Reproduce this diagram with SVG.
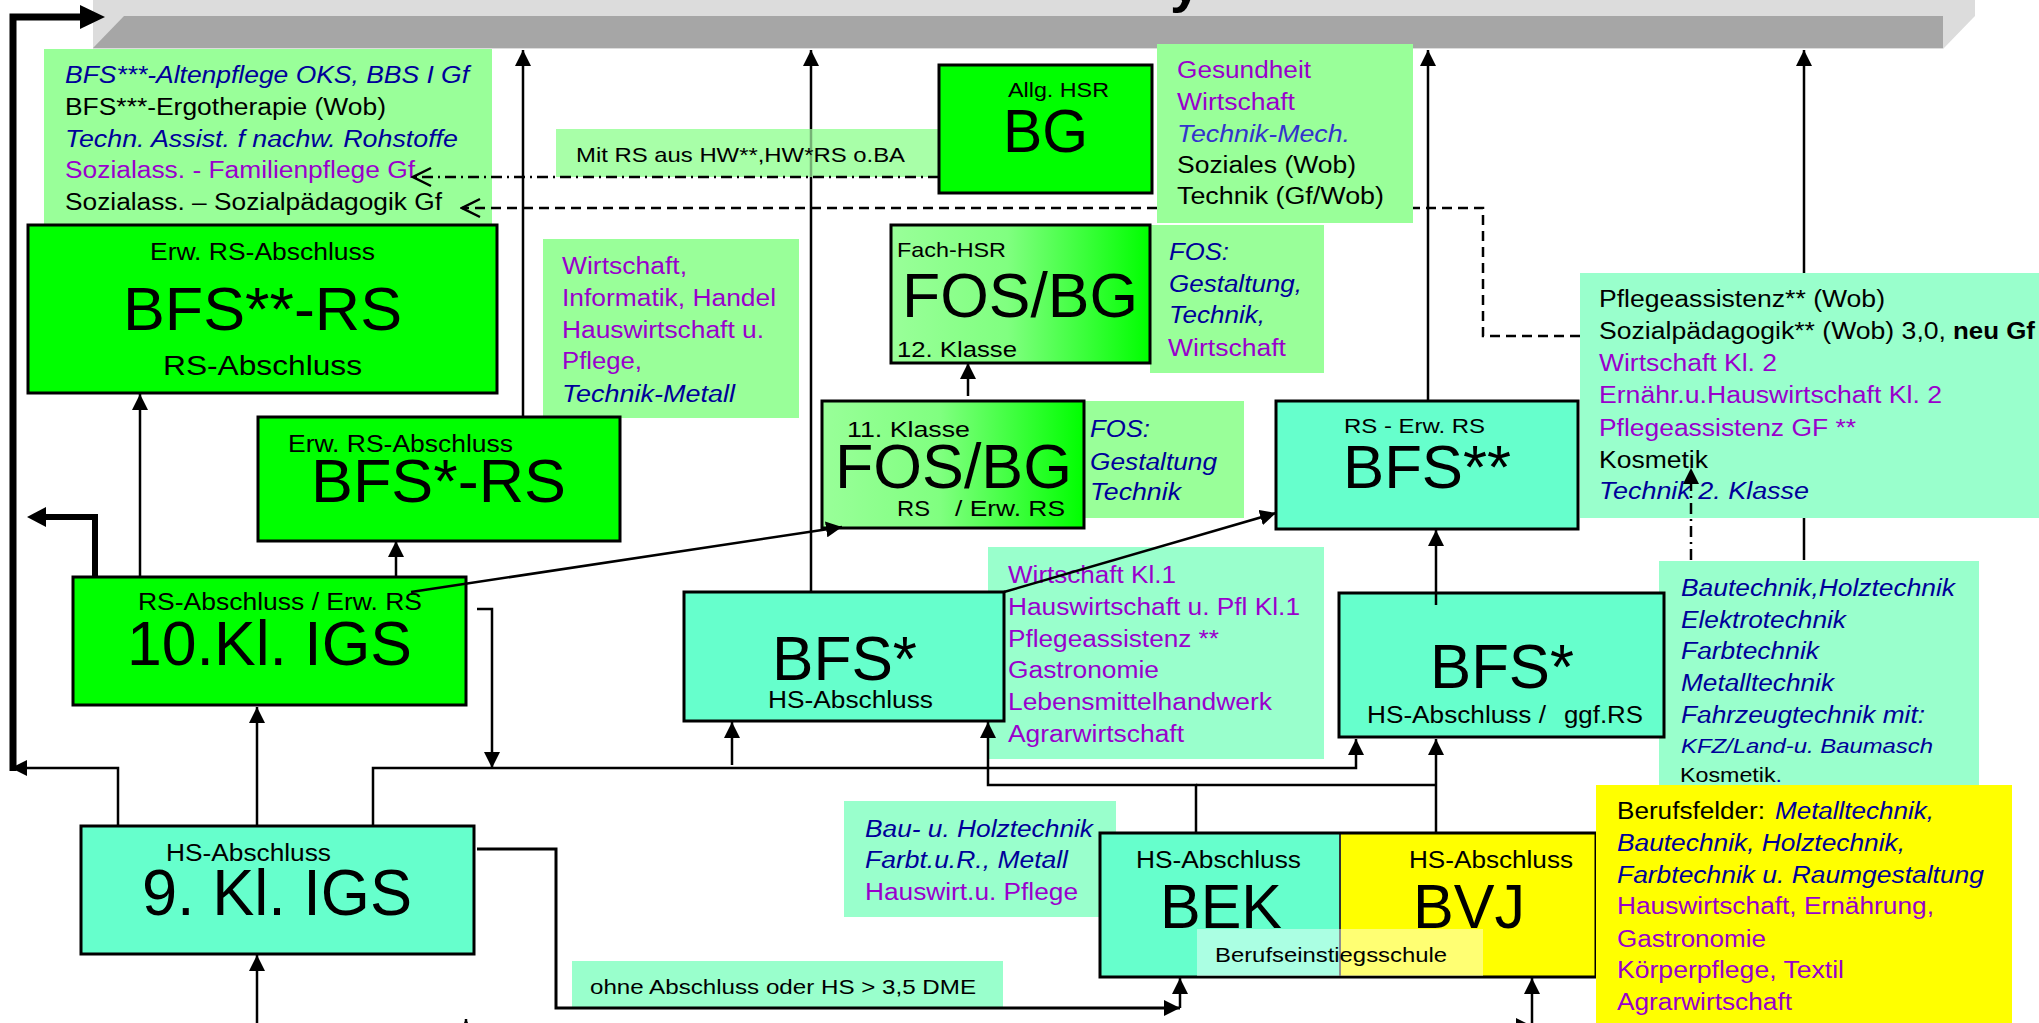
<svg xmlns="http://www.w3.org/2000/svg" width="2039" height="1023" viewBox="0 0 2039 1023">
<style>
text{font-family:"Liberation Sans",Arial,sans-serif;fill:#000}
.s{font-size:23px}
.m{font-size:21px}
.b{font-size:62px}
.p{fill:#9900CC}
.n{fill:#000099;font-style:italic}
.bx{stroke:#000;stroke-width:3}
.g1{fill:#00FF00}
.aq{fill:#66FFCC}
.lg{fill:#99FF99}
.la{fill:#99FFCC}
.ye{fill:#FFFF00}
.c{fill:none;stroke:#000;stroke-width:2.5}
.ca{fill:none;stroke:#000;stroke-width:2.5;marker-end:url(#ah)}
</style>
<defs>
<marker id="ah" markerUnits="userSpaceOnUse" markerWidth="16" markerHeight="16" viewBox="0 0 16 16" refX="16" refY="8" orient="auto"><path d="M0,0 L16,8 L0,16 z" fill="#000"/></marker>
<marker id="oa" markerUnits="userSpaceOnUse" markerWidth="22" markerHeight="22" viewBox="0 0 22 22" refX="20" refY="11" orient="auto"><path d="M2,2 L20,11 L2,20" fill="none" stroke="#000" stroke-width="2.5"/></marker>
<linearGradient id="fg" x1="0" y1="0" x2="1" y2="0"><stop offset="0" stop-color="#99FF99"/><stop offset="0.45" stop-color="#80FF80"/><stop offset="1" stop-color="#00FF00"/></linearGradient>
</defs>
<rect width="2039" height="1023" fill="#fff"/>
<g id="topbar">
<polygon points="93,0 1975,0 1975,16 1943,49 93,49" fill="#DCDCDC"/>
<polygon points="124,16 1943,16 1943,48 93,48" fill="#A6A6A6"/>
<text x="1170" y="1" style="font-size:56px;font-weight:bold">y</text>
</g>
<g id="list-bfs3">
<rect x="44" y="49" width="448" height="176" class="lg"/>
<text x="65" y="83" class="s n" textLength="404" lengthAdjust="spacingAndGlyphs">BFS***-Altenpflege OKS, BBS I Gf</text>
<text x="65" y="115" class="s" textLength="321" lengthAdjust="spacingAndGlyphs">BFS***-Ergotherapie (Wob)</text>
<text x="65" y="147" class="s n" textLength="393" lengthAdjust="spacingAndGlyphs">Techn. Assist. f nachw. Rohstoffe</text>
<text x="65" y="178" class="s p" textLength="350" lengthAdjust="spacingAndGlyphs">Sozialass. - Familienpflege Gf</text>
<text x="65" y="210" class="s" textLength="377" lengthAdjust="spacingAndGlyphs">Sozialass. – Sozialpädagogik Gf</text>
</g>
<g id="label-mitrs">
<rect x="556" y="129" width="400" height="48" class="lg" opacity="0.85"/>
<text x="576" y="162" class="m" textLength="329" lengthAdjust="spacingAndGlyphs">Mit RS aus HW**,HW*RS o.BA</text>
</g>
<g id="bg">
<rect x="939" y="65" width="213" height="128" class="g1 bx"/>
<text x="1008" y="97" style="font-size:20px" textLength="101" lengthAdjust="spacingAndGlyphs">Allg. HSR</text>
<text x="1003" y="152" style="font-size:61px" textLength="85" lengthAdjust="spacingAndGlyphs">BG</text>
</g>
<g id="list-bg">
<rect x="1157" y="44" width="256" height="179" class="lg"/>
<text x="1177" y="78" class="s p" textLength="134" lengthAdjust="spacingAndGlyphs">Gesundheit</text>
<text x="1177" y="110" class="s p" textLength="118" lengthAdjust="spacingAndGlyphs">Wirtschaft</text>
<text x="1177" y="142" class="s" style="fill:#3333CC;font-style:italic" textLength="173" lengthAdjust="spacingAndGlyphs">Technik-Mech.</text>
<text x="1177" y="173" class="s" textLength="179" lengthAdjust="spacingAndGlyphs">Soziales (Wob)</text>
<text x="1177" y="204" class="s" textLength="207" lengthAdjust="spacingAndGlyphs">Technik (Gf/Wob)</text>
</g>
<g id="bfs2rs">
<rect x="28" y="225" width="469" height="168" class="g1 bx"/>
<text x="150" y="260" class="s" textLength="225" lengthAdjust="spacingAndGlyphs">Erw. RS-Abschluss</text>
<text x="123" y="330" class="b" textLength="279" lengthAdjust="spacingAndGlyphs">BFS**-RS</text>
<text x="163" y="375" style="font-size:27px" textLength="199" lengthAdjust="spacingAndGlyphs">RS-Abschluss</text>
</g>
<g id="list-bfs2rs">
<rect x="543" y="239" width="256" height="179" class="lg"/>
<text x="562" y="274" class="s p" textLength="125" lengthAdjust="spacingAndGlyphs">Wirtschaft,</text>
<text x="562" y="306" class="s p" textLength="214" lengthAdjust="spacingAndGlyphs">Informatik, Handel</text>
<text x="562" y="338" class="s p" textLength="202" lengthAdjust="spacingAndGlyphs">Hauswirtschaft u.</text>
<text x="562" y="369" class="s p" textLength="80" lengthAdjust="spacingAndGlyphs">Pflege,</text>
<text x="562" y="402" class="s n" textLength="173" lengthAdjust="spacingAndGlyphs">Technik-Metall</text>
</g>
<g id="list-fos12">
<rect x="1150" y="225" width="174" height="148" class="lg"/>
<text x="1169" y="260" class="s n" textLength="60" lengthAdjust="spacingAndGlyphs">FOS:</text>
<text x="1169" y="292" class="s n" textLength="133" lengthAdjust="spacingAndGlyphs">Gestaltung,</text>
<text x="1169" y="323" class="s n" textLength="96" lengthAdjust="spacingAndGlyphs">Technik,</text>
<text x="1168" y="356" class="s p" textLength="118" lengthAdjust="spacingAndGlyphs">Wirtschaft</text>
</g>
<g id="fos12">
<rect x="891" y="225" width="259" height="138" fill="url(#fg)" class="bx"/>
<text x="897" y="257" class="m" textLength="109" lengthAdjust="spacingAndGlyphs">Fach-HSR</text>
<text x="902" y="317" style="font-size:63px" textLength="236" lengthAdjust="spacingAndGlyphs">FOS/BG</text>
<text x="897" y="357" style="font-size:22px" textLength="120" lengthAdjust="spacingAndGlyphs">12. Klasse</text>
</g>
<g id="list-bfs2">
<rect x="1580" y="273" width="470" height="245" class="la"/>
<text x="1599" y="307" class="s" textLength="286" lengthAdjust="spacingAndGlyphs">Pflegeassistenz** (Wob)</text>
<text x="1599" y="339" class="s" textLength="347" lengthAdjust="spacingAndGlyphs">Sozialpädagogik** (Wob) 3,0,</text>
<text x="1953" y="339" class="s" style="font-weight:bold" textLength="82" lengthAdjust="spacingAndGlyphs">neu Gf</text>
<text x="1599" y="371" class="s p" textLength="178" lengthAdjust="spacingAndGlyphs">Wirtschaft Kl. 2</text>
<text x="1599" y="403" class="s p" textLength="343" lengthAdjust="spacingAndGlyphs">Ernähr.u.Hauswirtschaft Kl. 2</text>
<text x="1599" y="436" class="s p" textLength="257" lengthAdjust="spacingAndGlyphs">Pflegeassistenz GF **</text>
<text x="1599" y="468" class="s" textLength="109" lengthAdjust="spacingAndGlyphs">Kosmetik</text>
<text x="1599" y="499" class="s n" textLength="210" lengthAdjust="spacingAndGlyphs">Technik 2. Klasse</text>
</g>
<g id="bfs2">
<rect x="1276" y="401" width="302" height="128" class="aq bx"/>
<text x="1344" y="433" class="m" textLength="141" lengthAdjust="spacingAndGlyphs">RS - Erw. RS</text>
<text x="1343" y="488" style="font-size:61px" textLength="168" lengthAdjust="spacingAndGlyphs">BFS**</text>
</g>
<g id="list-fos11">
<rect x="1084" y="401" width="160" height="117" class="lg"/>
<text x="1090" y="437" class="s n" textLength="60" lengthAdjust="spacingAndGlyphs">FOS:</text>
<text x="1090" y="470" class="s n" textLength="127" lengthAdjust="spacingAndGlyphs">Gestaltung</text>
<text x="1090" y="500" class="s n" textLength="91" lengthAdjust="spacingAndGlyphs">Technik</text>
</g>
<g id="fos11">
<rect x="822" y="401" width="262" height="127" fill="url(#fg)" class="bx"/>
<text x="847" y="437" style="font-size:22px" textLength="123" lengthAdjust="spacingAndGlyphs">11. Klasse</text>
<text x="835" y="488" style="font-size:63px" textLength="237" lengthAdjust="spacingAndGlyphs">FOS/BG</text>
<text x="897" y="516" style="font-size:22px" textLength="33" lengthAdjust="spacingAndGlyphs">RS</text>
<text x="955" y="516" style="font-size:22px" textLength="110" lengthAdjust="spacingAndGlyphs">/ Erw. RS</text>
</g>
<g id="bfs1rs">
<rect x="258" y="417" width="362" height="124" class="g1 bx"/>
<text x="288" y="452" class="s" textLength="225" lengthAdjust="spacingAndGlyphs">Erw. RS-Abschluss</text>
<text x="311" y="502" class="b" textLength="255" lengthAdjust="spacingAndGlyphs">BFS*-RS</text>
</g>
<g id="igs10">
<rect x="73" y="577" width="393" height="128" class="g1 bx"/>
<text x="138" y="610" class="s" textLength="284" lengthAdjust="spacingAndGlyphs">RS-Abschluss / Erw. RS</text>
<text x="127" y="665" style="font-size:63px" textLength="285" lengthAdjust="spacingAndGlyphs">10.Kl. IGS</text>
</g>
<g id="list-bfs1a">
<rect x="988" y="547" width="336" height="212" class="la"/>
<text x="1008" y="583" class="s p" textLength="168" lengthAdjust="spacingAndGlyphs">Wirtschaft Kl.1</text>
<text x="1008" y="615" class="s p" textLength="292" lengthAdjust="spacingAndGlyphs">Hauswirtschaft u. Pfl Kl.1</text>
<text x="1008" y="647" class="s p" textLength="211" lengthAdjust="spacingAndGlyphs">Pflegeassistenz **</text>
<text x="1008" y="678" class="s p" textLength="151" lengthAdjust="spacingAndGlyphs">Gastronomie</text>
<text x="1008" y="710" class="s p" textLength="264" lengthAdjust="spacingAndGlyphs">Lebensmittelhandwerk</text>
<text x="1008" y="742" class="s p" textLength="176" lengthAdjust="spacingAndGlyphs">Agrarwirtschaft</text>
</g>
<g id="bfs1a">
<rect x="684" y="592" width="320" height="129" class="aq bx"/>
<text x="772" y="680" style="font-size:63px" textLength="145" lengthAdjust="spacingAndGlyphs">BFS*</text>
<text x="768" y="708" class="s" textLength="165" lengthAdjust="spacingAndGlyphs">HS-Abschluss</text>
</g>
<g id="list-bfs1b">
<rect x="1659" y="561" width="320" height="240" class="la"/>
<text x="1681" y="596" class="s n" textLength="274" lengthAdjust="spacingAndGlyphs">Bautechnik,Holztechnik</text>
<text x="1681" y="628" class="s n" textLength="165" lengthAdjust="spacingAndGlyphs">Elektrotechnik</text>
<text x="1681" y="659" class="s n" textLength="138" lengthAdjust="spacingAndGlyphs">Farbtechnik</text>
<text x="1681" y="691" class="s n" textLength="153" lengthAdjust="spacingAndGlyphs">Metalltechnik</text>
<text x="1681" y="723" class="s n" textLength="244" lengthAdjust="spacingAndGlyphs">Fahrzeugtechnik mit:</text>
<text x="1681" y="753" class="m n" textLength="252" lengthAdjust="spacingAndGlyphs">KFZ/Land-u. Baumasch</text>
<text x="1680" y="782" class="m" textLength="102" lengthAdjust="spacingAndGlyphs">Kosmetik<tspan style="fill:#000099">.</tspan></text>
</g>
<g id="bfs1b">
<rect x="1339" y="593" width="325" height="144" class="aq bx"/>
<text x="1430" y="688" style="font-size:63px" textLength="144" lengthAdjust="spacingAndGlyphs">BFS*</text>
<text x="1367" y="723" class="s" textLength="179" lengthAdjust="spacingAndGlyphs">HS-Abschluss /</text>
<text x="1564" y="723" class="s" textLength="79" lengthAdjust="spacingAndGlyphs">ggf.RS</text>
</g>
<g id="igs9">
<rect x="81" y="826" width="393" height="128" class="aq bx"/>
<text x="166" y="861" class="s" textLength="165" lengthAdjust="spacingAndGlyphs">HS-Abschluss</text>
<text x="142" y="915" style="font-size:64px" textLength="270" lengthAdjust="spacingAndGlyphs">9. Kl. IGS</text>
</g>
<g id="list-bek">
<rect x="844" y="801" width="272" height="116" class="la"/>
<text x="865" y="837" class="s n" textLength="228" lengthAdjust="spacingAndGlyphs">Bau- u. Holztechnik</text>
<text x="865" y="868" class="s n" textLength="203" lengthAdjust="spacingAndGlyphs">Farbt.u.R., Metall</text>
<text x="865" y="900" class="s p" textLength="213" lengthAdjust="spacingAndGlyphs">Hauswirt.u. Pflege</text>
</g>
<g id="label-ohne">
<rect x="572" y="961" width="431" height="47" class="la"/>
<text x="590" y="994" class="m" textLength="386" lengthAdjust="spacingAndGlyphs">ohne Abschluss oder HS &gt; 3,5 DME</text>
</g>
<g id="bek">
<rect x="1100" y="833" width="240" height="144" class="aq"/>
<text x="1136" y="868" class="s" textLength="165" lengthAdjust="spacingAndGlyphs">HS-Abschluss</text>
<text x="1160" y="928" style="font-size:63px" textLength="122" lengthAdjust="spacingAndGlyphs">BEK</text>
</g>
<g id="bvj">
<rect x="1340" y="833" width="256" height="144" class="ye"/>
<text x="1409" y="868" class="s" textLength="164" lengthAdjust="spacingAndGlyphs">HS-Abschluss</text>
<text x="1413" y="928" style="font-size:63px" textLength="112" lengthAdjust="spacingAndGlyphs">BVJ</text>
<line x1="1340" y1="833" x2="1340" y2="977" stroke="#333" stroke-width="2"/>
<rect x="1100" y="833" width="496" height="144" fill="none" class="bx"/>
</g>
<g id="label-bes">
<rect x="1197" y="929" width="286" height="47" fill="#fff" opacity="0.45"/>
<text x="1215" y="962" class="m" textLength="232" lengthAdjust="spacingAndGlyphs">Berufseinstiegsschule</text>
</g>
<g id="list-bvj">
<rect x="1596" y="785" width="416" height="250" class="ye"/>
<text x="1617" y="819" class="s" textLength="148" lengthAdjust="spacingAndGlyphs">Berufsfelder:</text>
<text x="1775" y="819" class="s n" textLength="159" lengthAdjust="spacingAndGlyphs">Metalltechnik,</text>
<text x="1617" y="851" class="s n" textLength="288" lengthAdjust="spacingAndGlyphs">Bautechnik, Holztechnik,</text>
<text x="1617" y="883" class="s n" textLength="367" lengthAdjust="spacingAndGlyphs">Farbtechnik u. Raumgestaltung</text>
<text x="1617" y="914" class="s p" textLength="317" lengthAdjust="spacingAndGlyphs">Hauswirtschaft, Ernährung,</text>
<text x="1617" y="947" class="s p" textLength="149" lengthAdjust="spacingAndGlyphs">Gastronomie</text>
<text x="1617" y="978" class="s p" textLength="227" lengthAdjust="spacingAndGlyphs">Körperpflege, Textil</text>
<text x="1617" y="1010" class="s p" textLength="175" lengthAdjust="spacingAndGlyphs">Agrarwirtschaft</text>
</g>
<g id="connectors">
<path class="ca" d="M523,416 V50"/>
<path class="c" d="M811,592 V177"/>
<path d="M811,177 V129" fill="none" stroke="#000" stroke-opacity="0.3" stroke-width="2.5"/>
<path class="ca" d="M811,129 V50"/>
<path class="ca" d="M1428,401 V50"/>
<path class="ca" d="M1804,560 V518 M1804,273 V50"/>
<path d="M939,177 H413" fill="none" stroke="#000" stroke-width="2.5" stroke-dasharray="11 5 2 5" marker-end="url(#oa)"/>
<path d="M1580,336 H1483 V208 H1413 M1157,208 H462" fill="none" stroke="#000" stroke-width="2.5" stroke-dasharray="10 6" marker-end="url(#oa)"/>
<path d="M1691,560 V468" fill="none" stroke="#000" stroke-width="2.5" stroke-dasharray="11 5 2 5" marker-end="url(#ah)"/>
<path class="ca" d="M968,396 V363"/>
<path class="ca" d="M140,577 V394"/>
<path class="ca" d="M396,577 V541"/>
<path d="M95,577 V517 H44" fill="none" stroke="#000" stroke-width="6"/>
<polygon points="27,517 46,507 46,527" fill="#000"/>
<path class="ca" d="M477,609 H492 V768"/>
<path class="ca" d="M411,592 L842,527"/>
<path class="ca" d="M1004,592 L1276,513"/>
<path d="M13,771 V17 H82" fill="none" stroke="#000" stroke-width="7"/>
<polygon points="105,17 80,5 80,29" fill="#000"/>
<path class="ca" d="M118,826 V768 H11"/>
<path class="ca" d="M257,826 V707"/>
<path class="ca" d="M373,826 V768 H1356 V739"/>
<path class="ca" d="M732,765 V722"/>
<path class="ca" d="M1196,833 V785 H988 V722"/>
<path class="c" d="M1196,785 H1436"/>
<path class="ca" d="M1436,833 V739"/>
<path class="ca" d="M1436,605 V530"/>
<path class="ca" d="M477,849 H556 V1008 H1180" style="stroke-width:3"/>
<path class="ca" d="M1180,1008 V978"/>
<path class="ca" d="M257,1023 V955"/>
<path class="ca" d="M1532,1023 V978"/>
<path class="ca" d="M1480,1026 H1532"/>
<path class="ca" d="M466,1045 V1019"/>
</g>
</svg>
